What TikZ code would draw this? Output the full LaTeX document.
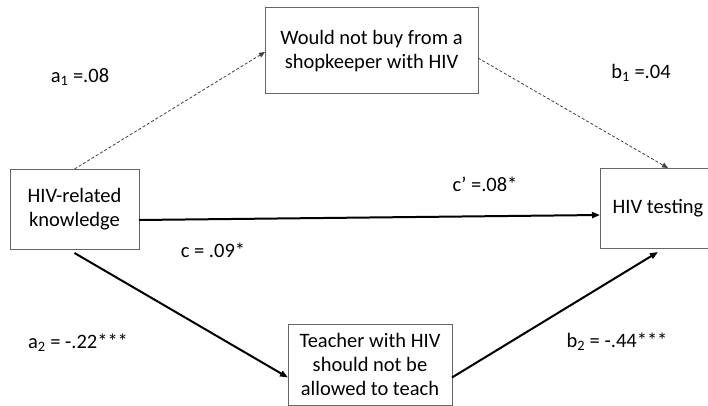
\documentclass[tikz,border=0pt]{standalone}
\usepackage{fontspec}
\setmainfont{Carlito}
\usetikzlibrary{
  arrows.meta,
  positioning
}
\tikzset{
  % For the variable boxes.
  varbox/.style={
    draw=black!60,
    line width=1pt,
    align=center,
    inner sep=0pt,
    outer sep=0pt,
    font=\fontsize{20.5}{24}\selectfont},
%
  % For significant paths.
  solid path/.style={
    line width=2pt,
    -{Triangle[length=8pt,width=6pt]}},
%
  % For non-significant paths.
  dashed path/.style={
    line width=0.8pt,
    black!75,
    dash pattern=on 3pt off 2pt,
    -{Triangle[length=6pt,width=5pt]}},
%
  % For path coefficients.
  coefficient/.style={
    font=\fontsize{20.5}{24}\selectfont,
    inner sep=0pt},
}

\begin{document}
\begin{tikzpicture}[x=1pt,y=-1pt]
  \useasboundingbox (0,0) rectangle (708,406);

  \node[varbox, minimum width=129pt, minimum height=80pt] (know) at (74.5,209)
    {HIV-related\\knowledge};
  \node[varbox, minimum width=213pt, minimum height=86pt] (shop) at (371.5,51)
    {Would not buy from a\\shopkeeper with HIV};
  \node[varbox, minimum width=116pt, minimum height=80pt] (test) at (658,208)
    {HIV testing};
  \node[varbox, minimum width=164pt, minimum height=81pt] (teach) at (370,364.5)
    {Teacher with HIV\\should not be\\allowed to teach};

  \draw[dashed path] (know.north) -- ([yshift=-1pt]shop.west);
  \draw[dashed path] ([yshift=-7pt]shop.east) -- ([xshift=10pt]test.north);
  \draw[solid path] ([yshift=-11pt]know.east) -- ([yshift=-7pt]test.west);
  \draw[solid path] ([yshift=-4pt]know.south) -- ([yshift=-13pt]teach.west);
  \draw[solid path] ([yshift=-13pt]teach.east) -- ([yshift=-4pt]test.south);

  \node[coefficient] (a1) at (80,77) {a\textsubscript{1} =.08};
  \node[coefficient] (b1) at (641,73) {b\textsubscript{1} =.04};
  \node[coefficient] (cp) at (485,184) {c’ =.08*};
  \node[coefficient] (c) at (213,250) {c = .09*};
  \node[coefficient] (a2) at (78,343) {a\textsubscript{2} = -.22***};
  \node[coefficient] (b2) at (617,342) {b\textsubscript{2} = -.44***};
\end{tikzpicture}
\end{document}
